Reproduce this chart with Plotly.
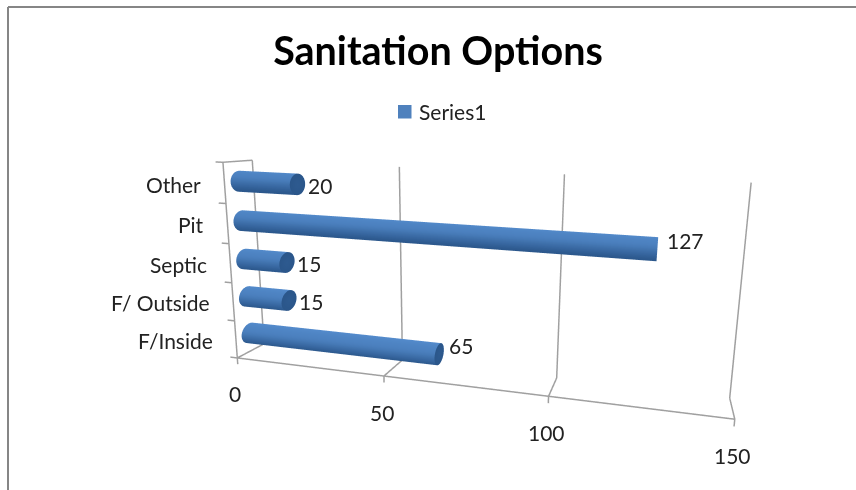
import numpy as np
import plotly.graph_objects as go

categories = ["F/Inside", "F/ Outside", "Septic", "Pit", "Other"]
values = [65, 15, 15, 127, 20]
value_ticks = [0, 50, 100, 150]
series_name = "Series1"
title_text = "Sanitation Options"

XR = (-4.0, 152.0)
YR = (-0.03, 1.03)
ZR = (-0.2, 5.05)

# scene box proportions and perspective camera
ax, ay, az = 2.42609, 0.21292, 1.0
eye = dict(x=0.82462, y=-2.47053, z=0.68652)
cen = dict(x=0.09236, y=0.96836, z=-0.01055)
up = dict(x=-0.01333, y=-0.07138, z=1.0)
DOMAIN_X = [212 / 856, 1.0]

RAD = 0.05
RAD_DEPTH = 0.06
GRID = "#a0a0a0"
FONT = "Lato"
TXT = "#222222"
SIZE = 21

fig = go.Figure()

# floor, back wall and left wall lines
lx, ly, lz = [], [], []


def seg(a, b):
    lx.extend([a[0], b[0], None])
    ly.extend([a[1], b[1], None])
    lz.extend([a[2], b[2], None])


n = len(categories)
for v in value_ticks:
    seg((v, 0, -0.17), (v, 0, 0))
    seg((v, 0, 0), (v, 1, 0))
    seg((v, 1, 0), (v, 1, n))
seg((0, 0, 0), (150, 0, 0))
seg((0, 0, 0), (0, 0, n))
seg((0, 0, n), (0, 1, n))
for k in range(n + 1):
    seg((-2.5, 0, k), (0, 0, k))
fig.add_trace(go.Scatter3d(x=lx, y=ly, z=lz, mode="lines", line=dict(color=GRID, width=3),
                           hoverinfo="skip", showlegend=False))

# one shaded cylinder per category, running from zero to its value
sy = (YR[1] - YR[0]) / ay
sz = (ZR[1] - ZR[0]) / az
N = 48
for i, val in enumerate(values):
    th = np.linspace(0, 2 * np.pi, N, endpoint=False)
    cyl_y = .5 + RAD_DEPTH * sy * np.cos(th)
    cyl_z = i + .5 + RAD * sz * np.sin(th)
    shade = 0.62 + 0.38 * np.sin(th + 0.35)
    shade = np.where(np.sin(th) > 0.55, shade - 0.14 * (np.sin(th) - 0.55) / 0.45, shade)
    X = np.concatenate([np.zeros(N), np.full(N, val), np.full(N, val), [val]])
    Y = np.concatenate([cyl_y, cyl_y, cyl_y, [.5]])
    Z = np.concatenate([cyl_z, cyl_z, cyl_z, [i + .5]])
    tone = np.concatenate([shade, shade, np.full(N, .22), [.28]])
    a, b, c = [], [], []
    for j in range(N):
        k = (j + 1) % N
        a += [j, k]
        b += [k, N + k]
        c += [N + j, N + j]
        a.append(2 * N + j)
        b.append(2 * N + k)
        c.append(3 * N)
    fig.add_trace(go.Mesh3d(
        x=X, y=Y, z=Z, i=a, j=b, k=c, intensity=tone, cmin=0, cmax=1, name=categories[i],
        colorscale=[[0, "#1f4674"], [0.3, "#2f5c92"], [0.6, "#4679b6"], [1, "#5b95d8"]],
        showscale=False, flatshading=False, hoverinfo="skip", showlegend=False,
        lighting=dict(ambient=1, diffuse=0, specular=0, roughness=1, fresnel=0)))

# tick labels, category labels and value labels pinned to scene coordinates
label_font = dict(family=FONT, size=SIZE, color=TXT)
notes = []
for v in value_ticks:
    notes.append(dict(x=v, y=0, z=0, text=str(v), showarrow=False, xshift=-2, yshift=-36, font=label_font))
for i, c in enumerate(categories):
    notes.append(dict(x=0, y=0, z=i + .5, text=c, showarrow=False, xanchor="right",
                      xshift=-21, yshift=-1, font=label_font))
for i, val in enumerate(values):
    notes.append(dict(x=val, y=.5, z=i + .5, text=str(val), showarrow=False, xanchor="left",
                      xshift=8, yshift=9 if val > 50 else -1, font=label_font))

axis = dict(visible=False, showgrid=False, showline=False, zeroline=False,
            showbackground=False, showspikes=False)
fig.update_layout(
    width=856, height=490, margin=dict(l=0, r=0, t=0, b=0), paper_bgcolor="white", showlegend=False,
    title=dict(text="<b>%s</b>" % title_text, x=438 / 856, xanchor="center", y=1 - 51 / 490,
               yanchor="middle", font=dict(family=FONT, size=39.5, color="black")),
    scene=dict(
        domain=dict(x=DOMAIN_X, y=[0, 1]),
        xaxis=dict(range=list(XR), **axis),
        yaxis=dict(range=list(YR), **axis),
        zaxis=dict(range=list(ZR), **axis),
        aspectmode="manual", aspectratio=dict(x=ax, y=ay, z=az),
        camera=dict(projection=dict(type="perspective"), eye=eye, center=cen, up=up),
        annotations=notes),
    shapes=[
        dict(type="line", xref="paper", yref="paper", x0=8 / 856, x1=1, y0=1 - 7 / 490, y1=1 - 7 / 490,
             line=dict(color="#868686", width=2)),
        dict(type="line", xref="paper", yref="paper", x0=8 / 856, x1=8 / 856, y0=1 - 7 / 490, y1=0,
             line=dict(color="#868686", width=2)),
        dict(type="rect", xref="paper", yref="paper", x0=398 / 856, x1=411.5 / 856,
             y0=1 - 118.5 / 490, y1=1 - 105 / 490, line=dict(width=0), fillcolor="#4f81bd"),
    ],
    annotations=[dict(xref="paper", yref="paper", x=417 / 856, y=1 - 112 / 490, xanchor="left",
                      yanchor="middle", showarrow=False, text=series_name, font=label_font)],
)
fig.write_html("out.html")
